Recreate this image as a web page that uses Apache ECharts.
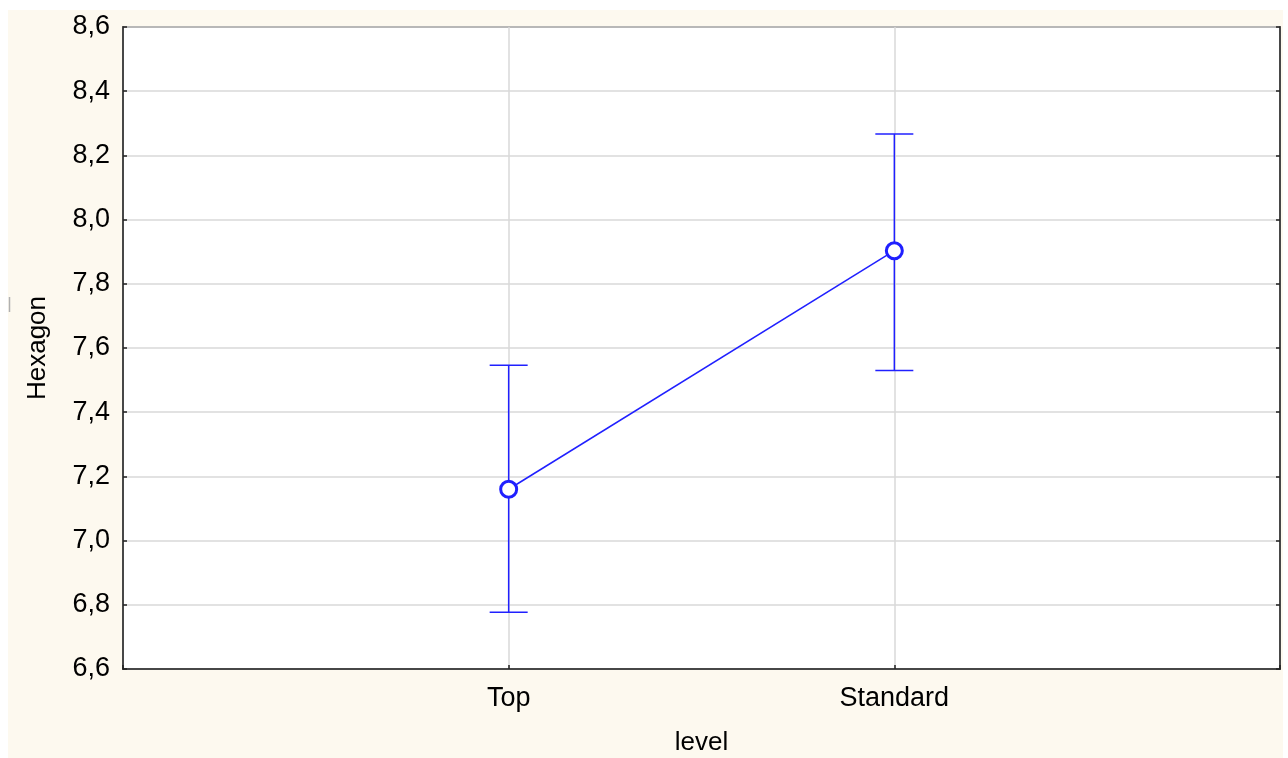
<!DOCTYPE html>
<html>
<head>
<meta charset="utf-8">
<script src="https://cdn.jsdelivr.net/npm/echarts@6/dist/echarts.min.js"></script>
<style>
html,body{margin:0;padding:0;background:#ffffff;width:1288px;height:758px;overflow:hidden;}
#chart{position:absolute;left:8px;top:10px;width:1275px;height:748px;background:#fdf9ef;}
</style>
</head>
<body>
<div id="chart"></div>
<script>
// Data
const categories = ['Top', 'Standard'];
const means = [7.16, 7.903];
const lowerBounds = [6.777, 7.530];
const upperBounds = [7.546, 8.267];
const yMin = 6.6, yMax = 8.6, yStep = 0.2;
const xAxisName = 'level';
const yAxisName = 'Hexagon';

const axisCats = [''].concat(categories, ['']);
const blue = '#2020ff';
const txt = '#000000';
const fontFam = '"Liberation Sans", Arial, Helvetica, sans-serif';

const chart = echarts.init(document.getElementById('chart'), null, {renderer: 'canvas'});
const fmt = v => v.toFixed(1).replace('.', ',');

chart.setOption({
  animation: false,
  backgroundColor: 'transparent',
  grid: {
    left: 115, top: 17, width: 1157, height: 642,
    containLabel: false, outerBoundsMode: 'none',
    show: true, backgroundColor: '#ffffff', borderColor: '#222222', borderWidth: 1.5
  },
  xAxis: {
    type: 'category',
    data: axisCats,
    boundaryGap: false,
    name: xAxisName,
    nameLocation: 'middle',
    nameGap: 61,
    nameTextStyle: {fontSize: 26, color: txt, fontFamily: fontFam},
    axisLine: {lineStyle: {color: '#222', width: 1.5}},
    axisTick: {inside: true, length: 4, lineStyle: {color: '#222', width: 1.5}},
    axisLabel: {fontSize: 27, color: txt, fontFamily: fontFam, margin: 16, interval: 0},
    splitLine: {show: true, lineStyle: {color: '#d9d9d9', width: 1.5}}
  },
  yAxis: [{
    type: 'value',
    min: yMin, max: yMax, interval: yStep,
    name: yAxisName,
    nameLocation: 'middle',
    nameGap: 72,
    nameRotate: 90,
    nameTextStyle: {fontSize: 26, color: txt, fontFamily: fontFam},
    axisLine: {show: true, lineStyle: {color: '#222', width: 1.5}},
    axisTick: {show: true, inside: true, length: 4, lineStyle: {color: '#222', width: 1.5}},
    axisLabel: {fontSize: 27, color: txt, fontFamily: fontFam, margin: 13, formatter: fmt},
    splitLine: {show: true, lineStyle: {color: '#d9d9d9', width: 1.5}}
  }, {
    type: 'value',
    position: 'right',
    min: yMin, max: yMax, interval: yStep,
    axisLine: {show: true, lineStyle: {color: '#222', width: 1.5}},
    axisTick: {show: true, inside: true, length: 4, lineStyle: {color: '#222', width: 1.5}},
    axisLabel: {show: false},
    splitLine: {show: false}
  }],
  graphic: [{
    type: 'line',
    shape: {x1: 1.5, y1: 287, x2: 1.5, y2: 302},
    style: {stroke: '#b0b0b0', lineWidth: 1.5}
  }],
  series: [{
    type: 'custom',
    z: 3,
    data: categories.map((c, i) => [c, lowerBounds[i], upperBounds[i]]),
    renderItem: function (params, api) {
      const x = api.value(0);
      const lo = api.coord([x, api.value(1)]);
      const hi = api.coord([x, api.value(2)]);
      const w = 19;
      const st = {stroke: blue, lineWidth: 1.5};
      return {
        type: 'group',
        children: [
          {type: 'line', shape: {x1: lo[0], y1: lo[1], x2: hi[0], y2: hi[1]}, style: st},
          {type: 'line', shape: {x1: lo[0] - w, y1: lo[1], x2: lo[0] + w, y2: lo[1]}, style: st},
          {type: 'line', shape: {x1: hi[0] - w, y1: hi[1], x2: hi[0] + w, y2: hi[1]}, style: st}
        ]
      };
    }
  }, {
    type: 'line',
    z: 4,
    data: categories.map((c, i) => [c, means[i]]),
    symbol: 'circle',
    symbolSize: 16,
    lineStyle: {color: blue, width: 1.5},
    itemStyle: {color: '#ffffff', borderColor: blue, borderWidth: 3},
    emphasis: {disabled: true}
  }]
});
</script>
</body>
</html>
